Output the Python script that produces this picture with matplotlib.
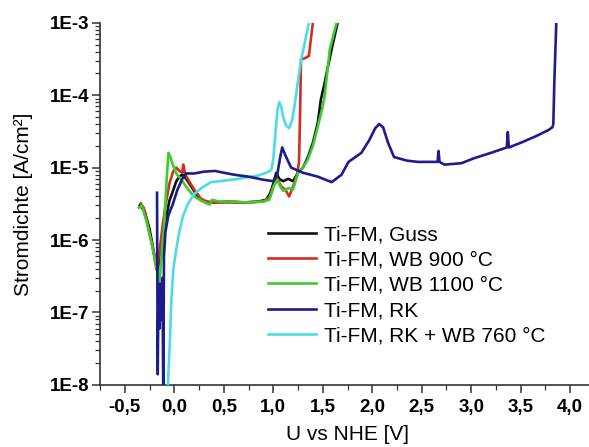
import matplotlib
matplotlib.use("Agg")
import matplotlib.pyplot as plt
from matplotlib.ticker import MultipleLocator, LogLocator, FixedLocator, FixedFormatter, NullFormatter

plt.rcParams['font.family'] = ['Liberation Sans', 'DejaVu Sans']

# Ti-FM, Guss
guss_u = [-0.35, -0.30, -0.25, -0.20, -0.17, -0.14, -0.10, -0.05, -0.02, 0.02, 0.05, 0.08, 0.12,
          0.17, 0.22, 0.27, 0.32, 0.40, 0.55, 0.70, 0.85, 0.93, 0.97, 1.00, 1.03, 1.06, 1.10, 1.15,
          1.20, 1.25, 1.30, 1.35, 1.40, 1.45, 1.48, 1.52, 1.55, 1.60, 1.65]
guss_i = [3.0e-6, 2.5e-6, 1.4e-6, 6e-7, 3.9e-7, 6e-7, 1.5e-6, 3.5e-6, 4.5e-6, 6.5e-6, 7.5e-6, 8e-6, 7e-6,
          5.5e-6, 4.3e-6, 3.6e-6, 3.4e-6, 3.3e-6, 3.4e-6, 3.3e-6, 3.4e-6, 3.6e-6, 4.5e-6, 6e-6, 8.5e-6,
          7e-6, 6.5e-6, 7e-6, 6.5e-6, 8.5e-6, 1.0e-5, 1.4e-5, 2.2e-5, 4.2e-5, 8.6e-5, 1.5e-4, 2.4e-4,
          5e-4, 1e-3]

# Ti-FM, WB 900 °C
wb900_u = [-0.34, -0.31, -0.27, -0.22, -0.18, -0.15, -0.12, -0.09, -0.05, -0.01, 0.02, 0.05, 0.08,
           0.09, 0.11, 0.15, 0.20, 0.27, 0.35, 0.50, 0.70, 0.90, 0.97, 1.00, 1.04, 1.08, 1.12, 1.16,
           1.20, 1.24, 1.26, 1.27, 1.28, 1.33, 1.36, 1.38, 1.40]
wb900_i = [3.2e-6, 2.8e-6, 1.6e-6, 8e-7, 3.9e-7, 7e-7, 1.5e-6, 3e-6, 6e-6, 9e-6, 1.0e-5, 9e-6, 8.5e-6,
           1.1e-5, 8e-6, 6.5e-6, 5e-6, 3.7e-6, 3.3e-6, 3.3e-6, 3.3e-6, 3.4e-6, 4e-6, 5.5e-6, 7e-6,
           5.5e-6, 5e-6, 4e-6, 5.5e-6, 8e-6, 1.2e-5, 5e-5, 3.1e-4, 3.3e-4, 3.5e-4, 6e-4, 1e-3]

# Ti-FM, WB 1100 °C
wb1100_u = [-0.36, -0.33, -0.28, -0.23, -0.19, -0.15, -0.13, -0.10, -0.08, -0.06, -0.04, -0.01, 0.02,
            0.08, 0.14, 0.20, 0.27, 0.33, 0.36, 0.38, 0.45, 0.60, 0.75, 0.90, 0.96, 1.00, 1.04, 1.07,
            1.10, 1.15, 1.20, 1.25, 1.30, 1.35, 1.40, 1.45, 1.50, 1.52, 1.57, 1.61, 1.64]
wb1100_i = [2.8e-6, 3e-6, 1.8e-6, 9e-7, 5e-7, 2.6e-7, 6e-7, 1.8e-6, 6e-6, 1.6e-5, 1.4e-5, 1.05e-5,
            8.3e-6, 6.5e-6, 5e-6, 4e-6, 3.5e-6, 3.2e-6, 3.1e-6, 3.6e-6, 3.4e-6, 3.4e-6, 3.3e-6, 3.4e-6,
            3.6e-6, 5.4e-6, 6.8e-6, 5.5e-6, 4.8e-6, 5.2e-6, 5e-6, 8.5e-6, 1e-5, 1.3e-5, 2e-5, 3.7e-5,
            7e-5, 1e-4, 4.2e-4, 7e-4, 1e-3]

# Ti-FM, RK
rk_u = [-0.175, -0.168, -0.16, -0.15, -0.14, -0.13, -0.12, -0.112, -0.105, -0.09, -0.06, -0.02, 0.03,
        0.08, 0.12, 0.20, 0.30, 0.41, 0.50, 0.60, 0.75, 0.90, 1.00, 1.04, 1.07, 1.09, 1.12, 1.18, 1.30,
        1.45, 1.59, 1.69, 1.76, 1.89, 1.97, 2.03, 2.07, 2.11, 2.16, 2.22, 2.35, 2.46, 2.66, 2.67, 2.68,
        2.73, 2.90, 3.03, 3.20, 3.36, 3.37, 3.38, 3.50, 3.65, 3.78, 3.82, 3.83, 3.84, 3.86]
rk_i = [4.5e-6, 1.4e-8, 2.5e-7, 6e-8, 2.5e-7, 8e-8, 3e-7, 8e-9, 6e-7, 1.3e-6, 2.2e-6, 3e-6, 4.9e-6,
        7e-6, 8.3e-6, 8.3e-6, 8.8e-6, 9e-6, 8.5e-6, 8e-6, 7.5e-6, 6.8e-6, 6.5e-6, 8e-6, 1.4e-5, 1.9e-5,
        1.5e-5, 1e-5, 8.5e-6, 7.5e-6, 6.3e-6, 8e-6, 1.2e-5, 1.6e-5, 2.4e-5, 3.5e-5, 4e-5, 3.6e-5,
        2.2e-5, 1.4e-5, 1.25e-5, 1.2e-5, 1.2e-5, 1.7e-5, 1.2e-5, 1.1e-5, 1.15e-5, 1.35e-5, 1.6e-5,
        1.9e-5, 3.1e-5, 1.9e-5, 2.2e-5, 2.7e-5, 3.3e-5, 3.6e-5, 4e-5, 1.5e-4, 1e-3]

# Ti-FM, RK + WB 760 °C
rkwb_u = [-0.075, -0.065, -0.055, -0.045, -0.03, -0.01, 0.02, 0.05, 0.09, 0.14, 0.20, 0.28, 0.37, 0.50,
          0.65, 0.75, 0.85, 0.93, 0.98, 1.00, 1.02, 1.04, 1.06, 1.08, 1.10, 1.13, 1.16, 1.19, 1.22,
          1.25, 1.28, 1.32, 1.36]
rkwb_i = [5e-9, 1e-8, 2e-8, 4e-8, 1.5e-7, 4e-7, 7.5e-7, 1.3e-6, 2.2e-6, 3.2e-6, 4.3e-6, 5.3e-6, 6.3e-6,
          6.6e-6, 7e-6, 7.4e-6, 7.8e-6, 8.5e-6, 9.3e-6, 1.3e-5, 2.8e-5, 6e-5, 8e-5, 7e-5, 5e-5, 3.8e-5,
          3.5e-5, 4.5e-5, 8e-5, 1.6e-4, 3e-4, 5.5e-4, 1e-3]

labels = ["Ti-FM, Guss", "Ti-FM, WB 900 °C", "Ti-FM, WB 1100 °C", "Ti-FM, RK", "Ti-FM, RK + WB 760 °C"]
colours = ["#111111", "#d03020", "#3ccc30", "#1c1c8c", "#4cdce6"]

y_ticks = [1e-8, 1e-7, 1e-6, 1e-5, 1e-4, 1e-3]
y_ticklabels = ["1E-8", "1E-7", "1E-6", "1E-5", "1E-4", "1E-3"]
x_ticks = [-0.5, 0.0, 0.5, 1.0, 1.5, 2.0, 2.5, 3.0, 3.5, 4.0]
x_ticklabels = ["-0,5", "0,0", "0,5", "1,0", "1,5", "2,0", "2,5", "3,0", "3,5", "4,0"]

fig = plt.figure(figsize=(5.89, 4.47), dpi=100)
ax = fig.add_axes([0.17, 0.139, 0.84, 0.81])

series = [(guss_u, guss_i), (wb900_u, wb900_i), (wb1100_u, wb1100_i), (rk_u, rk_i), (rkwb_u, rkwb_i)]
zorders = [2, 3, 4, 6, 5]
for (u, i), lab, col, z in zip(series, labels, colours, zorders):
    ax.plot(u, i, color=col, lw=1.9, label=lab, zorder=z)

ax.set_yscale('log')
ax.set_xlim(-0.75, 4.25)
ax.set_ylim(1e-8, 1e-3)

ax.yaxis.set_major_locator(FixedLocator(y_ticks))
ax.yaxis.set_major_formatter(FixedFormatter(y_ticklabels))
ax.yaxis.set_minor_locator(LogLocator(base=10, subs=range(2, 10)))
ax.yaxis.set_minor_formatter(NullFormatter())
ax.xaxis.set_major_locator(FixedLocator(x_ticks))
ax.xaxis.set_major_formatter(FixedFormatter(x_ticklabels))
ax.xaxis.set_minor_locator(MultipleLocator(0.25))

for sp in ['top', 'right']:
    ax.spines[sp].set_visible(False)
for sp in ['left', 'bottom']:
    ax.spines[sp].set_linewidth(1.2)
    ax.spines[sp].set_color('#333333')

ax.tick_params(which='major', direction='out', length=6, width=1.1, color='#333333',
               labelsize=13.5, pad=2)
ax.tick_params(axis='x', which='major', pad=4)
ax.tick_params(which='minor', direction='out', length=3.5, width=0.9, color='#333333')
for t in ax.get_xticklabels() + ax.get_yticklabels():
    t.set_fontweight('bold')

ax.set_xlabel('U vs NHE [V]', fontsize=15, labelpad=7)
ax.set_ylabel('Stromdichte [A/cm²]', fontsize=15, labelpad=12)

ax.legend(loc='upper left', bbox_to_anchor=(0.455, 0.496), bbox_transform=fig.transFigure,
          frameon=False, fontsize=15, handlelength=2.3, handletextpad=0.4,
          labelspacing=0.3, borderpad=0, borderaxespad=0)

fig.savefig('out.png', dpi=100, facecolor='white')
